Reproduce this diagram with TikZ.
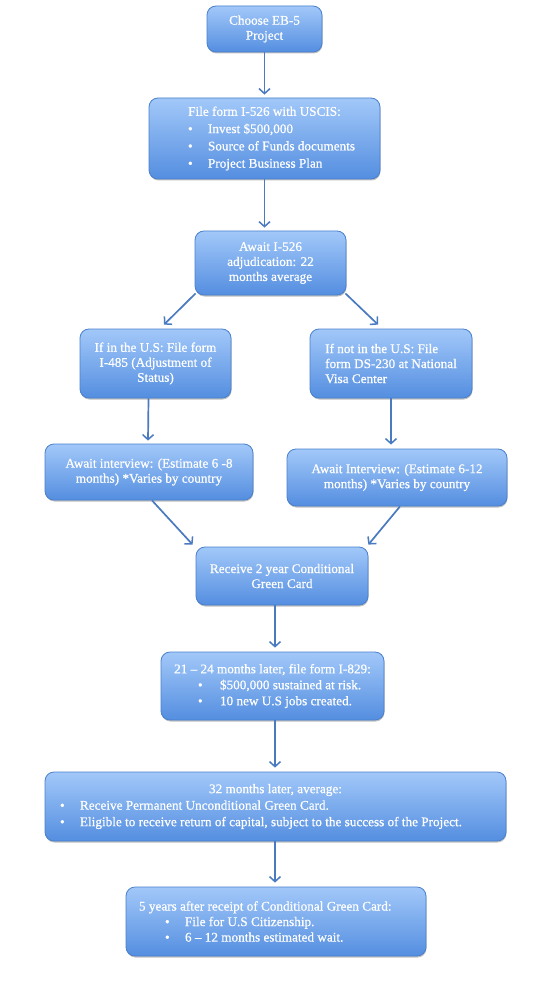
\documentclass[tikz,border=0pt]{standalone}
\usepackage{fontspec}
\setmainfont{Liberation Serif}[FakeBold=0.6]
\usetikzlibrary{arrows.meta,shadows}
\definecolor{boxtop}{RGB}{162,200,249}
\definecolor{boxbot}{RGB}{84,142,224}
\definecolor{boxedge}{RGB}{74,128,205}
\definecolor{arrowc}{RGB}{74,122,192}
\tikzset{
  box/.style={draw=boxedge, line width=0.8pt, rounded corners=9pt,
    top color=boxtop, bottom color=boxbot, text=white,
    font=\fontsize{13.2}{15}\selectfont, align=center, inner sep=0pt,
    drop shadow={shadow xshift=0.5pt, shadow yshift=-1.5pt, opacity=0.25, fill=black}},
  arr/.style={draw=arrowc, line width=1.7pt, -{Straight Barb[length=5pt,width=11pt,line width=1.5pt]}}
}
\newcommand{\blt}{\textbullet}
% bullet line: indent from box edge, gap bullet->text, text
\newcommand{\bline}[3]{\par\noindent\hspace*{#1}\makebox[#2][l]{\blt}#3}
\newcommand{\headline}[1]{\par\noindent\hfill #1\hfill\null}
\begin{document}
\begin{tikzpicture}[x=1pt,y=-1pt]
\useasboundingbox (0,0) rectangle (554,1000);
\fill[white] (0,0) rectangle (554,1000);

\node[box, minimum width=115pt, minimum height=46pt] (b1) at (264.5,29) {Choose EB-5\\Project};

\node[box, minimum width=231pt, minimum height=81pt] (b2) at (264.5,138.5)
 {\parbox{231pt}{\baselineskip=17.3pt
  \headline{File form I-526 with USCIS:}
  \bline{39pt}{20pt}{Invest \$500,000}
  \bline{39pt}{20pt}{Source of Funds documents}
  \bline{39pt}{20pt}{Project Business Plan}}};

\node[box, minimum width=151pt, minimum height=64pt] (b3) at (270.5,263) {Await I-526\\adjudication: 22\\months average};

\node[box, minimum width=151pt, minimum height=69pt] (b4) at (155.5,363.5) {If in the U.S: File form\\I-485 (Adjustment of\\Status)};

\node[box, minimum width=162pt, minimum height=69pt, align=left] (b5) at (391,363.5) {If not in the U.S: File\\form DS-230 at National\\Visa Center};

\node[box, minimum width=208pt, minimum height=56pt] (b6) at (149,472) {Await interview: (Estimate 6 -8\\months) *Varies by country};

\node[box, minimum width=220pt, minimum height=57pt] (b7) at (397,477.5) {Await Interview: (Estimate 6-12\\months) *Varies by country};

\node[box, minimum width=172pt, minimum height=58pt] (b8) at (282,576) {Receive 2 year Conditional\\Green Card};

\node[box, minimum width=223pt, minimum height=68pt] (b9) at (272.5,686)
 {\parbox{223pt}{\baselineskip=16pt
  \headline{21 -- 24 months later, file form I-829:}
  \bline{37pt}{22pt}{\$500,000 sustained at risk.}
  \bline{37pt}{22pt}{10 new U.S jobs created.}}};

\node[box, minimum width=461pt, minimum height=69pt] (b10) at (275.5,806.5)
 {\parbox{461pt}{\baselineskip=16.5pt
  \headline{32 months later, average:}
  \bline{15pt}{20pt}{Receive Permanent Unconditional Green Card.}
  \bline{15pt}{20pt}{Eligible to receive return of capital, subject to the success of the Project.}}};

\node[box, minimum width=300pt, minimum height=69pt] (b11) at (276,921.5)
 {\parbox{300pt}{\baselineskip=15.5pt
  \par\noindent\hspace*{13pt}5 years after receipt of Conditional Green Card:
  \bline{39pt}{20pt}{File for U.S Citizenship.}
  \bline{39pt}{20pt}{6 -- 12 months estimated wait.}}};

\draw[arr] (b1.south) -- ([shift={(0,-3)}]b2.north);
\draw[arr] (b2.south) -- ([shift={(-6,-3)}]b3.north);
\draw[arr] ([shift={(1,-2)}]b3.south west) -- ([shift={(8.5,-4)}]b4.north);
\draw[arr] ([shift={(-1,-2)}]b3.south east) -- ([shift={(-13,-4)}]b5.north);
\draw[arr] ([shift={(-7,0)}]b4.south) -- ([shift={(-1,-3)}]b6.north);
\draw[arr] (b5.south) -- ([shift={(-6,-4)}]b7.north);
\draw[arr] ([shift={(3,0)}]b6.south) -- ([shift={(-3,-2)}]b8.north west);
\draw[arr] ([shift={(3,0)}]b7.south) -- ([shift={(0,-2)}]b8.north east);
\draw[arr] ([shift={(-7,0)}]b8.south) -- ([shift={(2.5,-4)}]b9.north);
\draw[arr] ([shift={(2.5,0)}]b9.south) -- ([shift={(-0.5,-4)}]b10.north);
\draw[arr] ([shift={(-0.5,0)}]b10.south) -- ([shift={(-1,-4)}]b11.north);
\end{tikzpicture}
\end{document}
